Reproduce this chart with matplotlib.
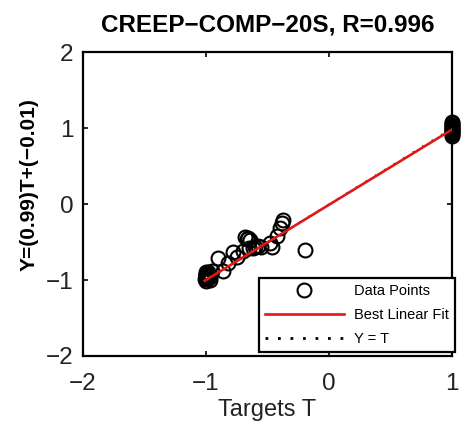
import numpy as np
import matplotlib
matplotlib.use("Agg")
import matplotlib.pyplot as plt

plt.rcParams["font.family"] = ["Liberation Sans", "DejaVu Sans"]

# regression summary
slope = 0.99
intercept = -0.01
r_value = 0.996
run_name = "CREEP\u2212COMP\u221220S"

# network targets and outputs
targets = [
    -1.0, -1.0, -1.0, -1.0, -1.0, -1.0, -0.98, -0.98, -0.97, -0.99, -1.0, -0.97,
    -1.01, -1.0, -0.99, -0.98, -1.0, -0.99,
    -0.95, -0.90, -0.86, -0.82, -0.78, -0.75, -0.70, -0.68, -0.67, -0.66, -0.64,
    -0.65, -0.62, -0.60, -0.58, -0.55, -0.48, -0.46, -0.42, -0.40, -0.38, -0.37,
    -0.195,
    1.0, 1.0, 1.0, 1.0, 1.0, 1.0, 1.0, 1.0, 1.0, 1.0, 1.0, 1.0, 1.0,
]
outputs = [
    -0.90, -0.92, -0.93, -0.94, -0.95, -0.96, -0.97, -0.98, -1.00, -0.91, -0.94, -0.96,
    -0.99, -0.97, -0.93, -0.90, -1.01, -0.95,
    -0.88, -0.71, -0.88, -0.78, -0.63, -0.70, -0.62, -0.43, -0.46, -0.45, -0.47,
    -0.58, -0.58, -0.56, -0.55, -0.57, -0.51, -0.57, -0.42, -0.32, -0.25, -0.21,
    -0.61,
    0.90, 0.92, 0.93, 0.95, 0.96, 0.97, 0.99, 1.00, 1.02, 1.03, 1.04, 1.06, 1.08,
]

x_ticks = [-2, -1, 0, 1]
y_ticks = [-2, -1, 0, 1, 2]


def fmt(v):
    return f"{v:.2f}".replace("-", "\u2212")


fig = plt.figure(figsize=(4.65, 4.21), dpi=100)
ax = fig.add_axes([0.1785, 0.1544, 0.7935, 0.722])

t = np.asarray(targets)
a = np.asarray(outputs)
xs = np.array([t.min(), t.max()])

ax.plot(t, a, "o", mfc="none", mec="black", ms=10, mew=1.5, label="Data Points",
        zorder=3, clip_on=False)
ax.plot(xs, slope * xs + intercept, "-", color="#e01818", lw=1.9, label="Best Linear Fit", zorder=4)
ax.plot(xs, xs, color="black", lw=1.0, dashes=(1, 7), label="Y = T", zorder=2)

ax.set_xlim(-2, 1)
ax.set_ylim(-2, 2)
ax.set_xticks(x_ticks)
ax.set_yticks(y_ticks)
ax.set_xticklabels([str(v).replace("-", "\u2212") for v in x_ticks])
ax.set_yticklabels([str(v).replace("-", "\u2212") for v in y_ticks])
ax.tick_params(direction="in", length=3.5, width=1.2, top=True, right=True,
               labelsize=17.5, labelcolor="#222222", pad=7)
ax.tick_params(axis="x", pad=12)
for sp in ax.spines.values():
    sp.set_linewidth(1.6)

ax.set_title(f"{run_name}, R={r_value:.3f}", fontsize=17.5, fontweight="bold", pad=15)
ax.set_xlabel("Targets T", fontsize=17, color="#222222", labelpad=3)
ax.set_ylabel(f"Y=({fmt(slope)})T+({fmt(intercept)})", fontsize=15, fontweight="bold")
ax.yaxis.set_label_coords(-0.12, 0.564)

leg = ax.legend(loc="lower right", bbox_to_anchor=(1.008, 0.013), fontsize=10.5,
                handlelength=5.4, handletextpad=0.7, labelspacing=0.68,
                borderpad=0.42, borderaxespad=0, fancybox=False, framealpha=1)
leg.get_frame().set_edgecolor("black")
leg.get_frame().set_linewidth(1.6)
# bigger dots for the reference line in the key
leg.get_lines()[2].set_linewidth(2.0)
leg.get_lines()[2].set_dashes((1, 3.5))

fig.savefig("out.png", dpi=100)
